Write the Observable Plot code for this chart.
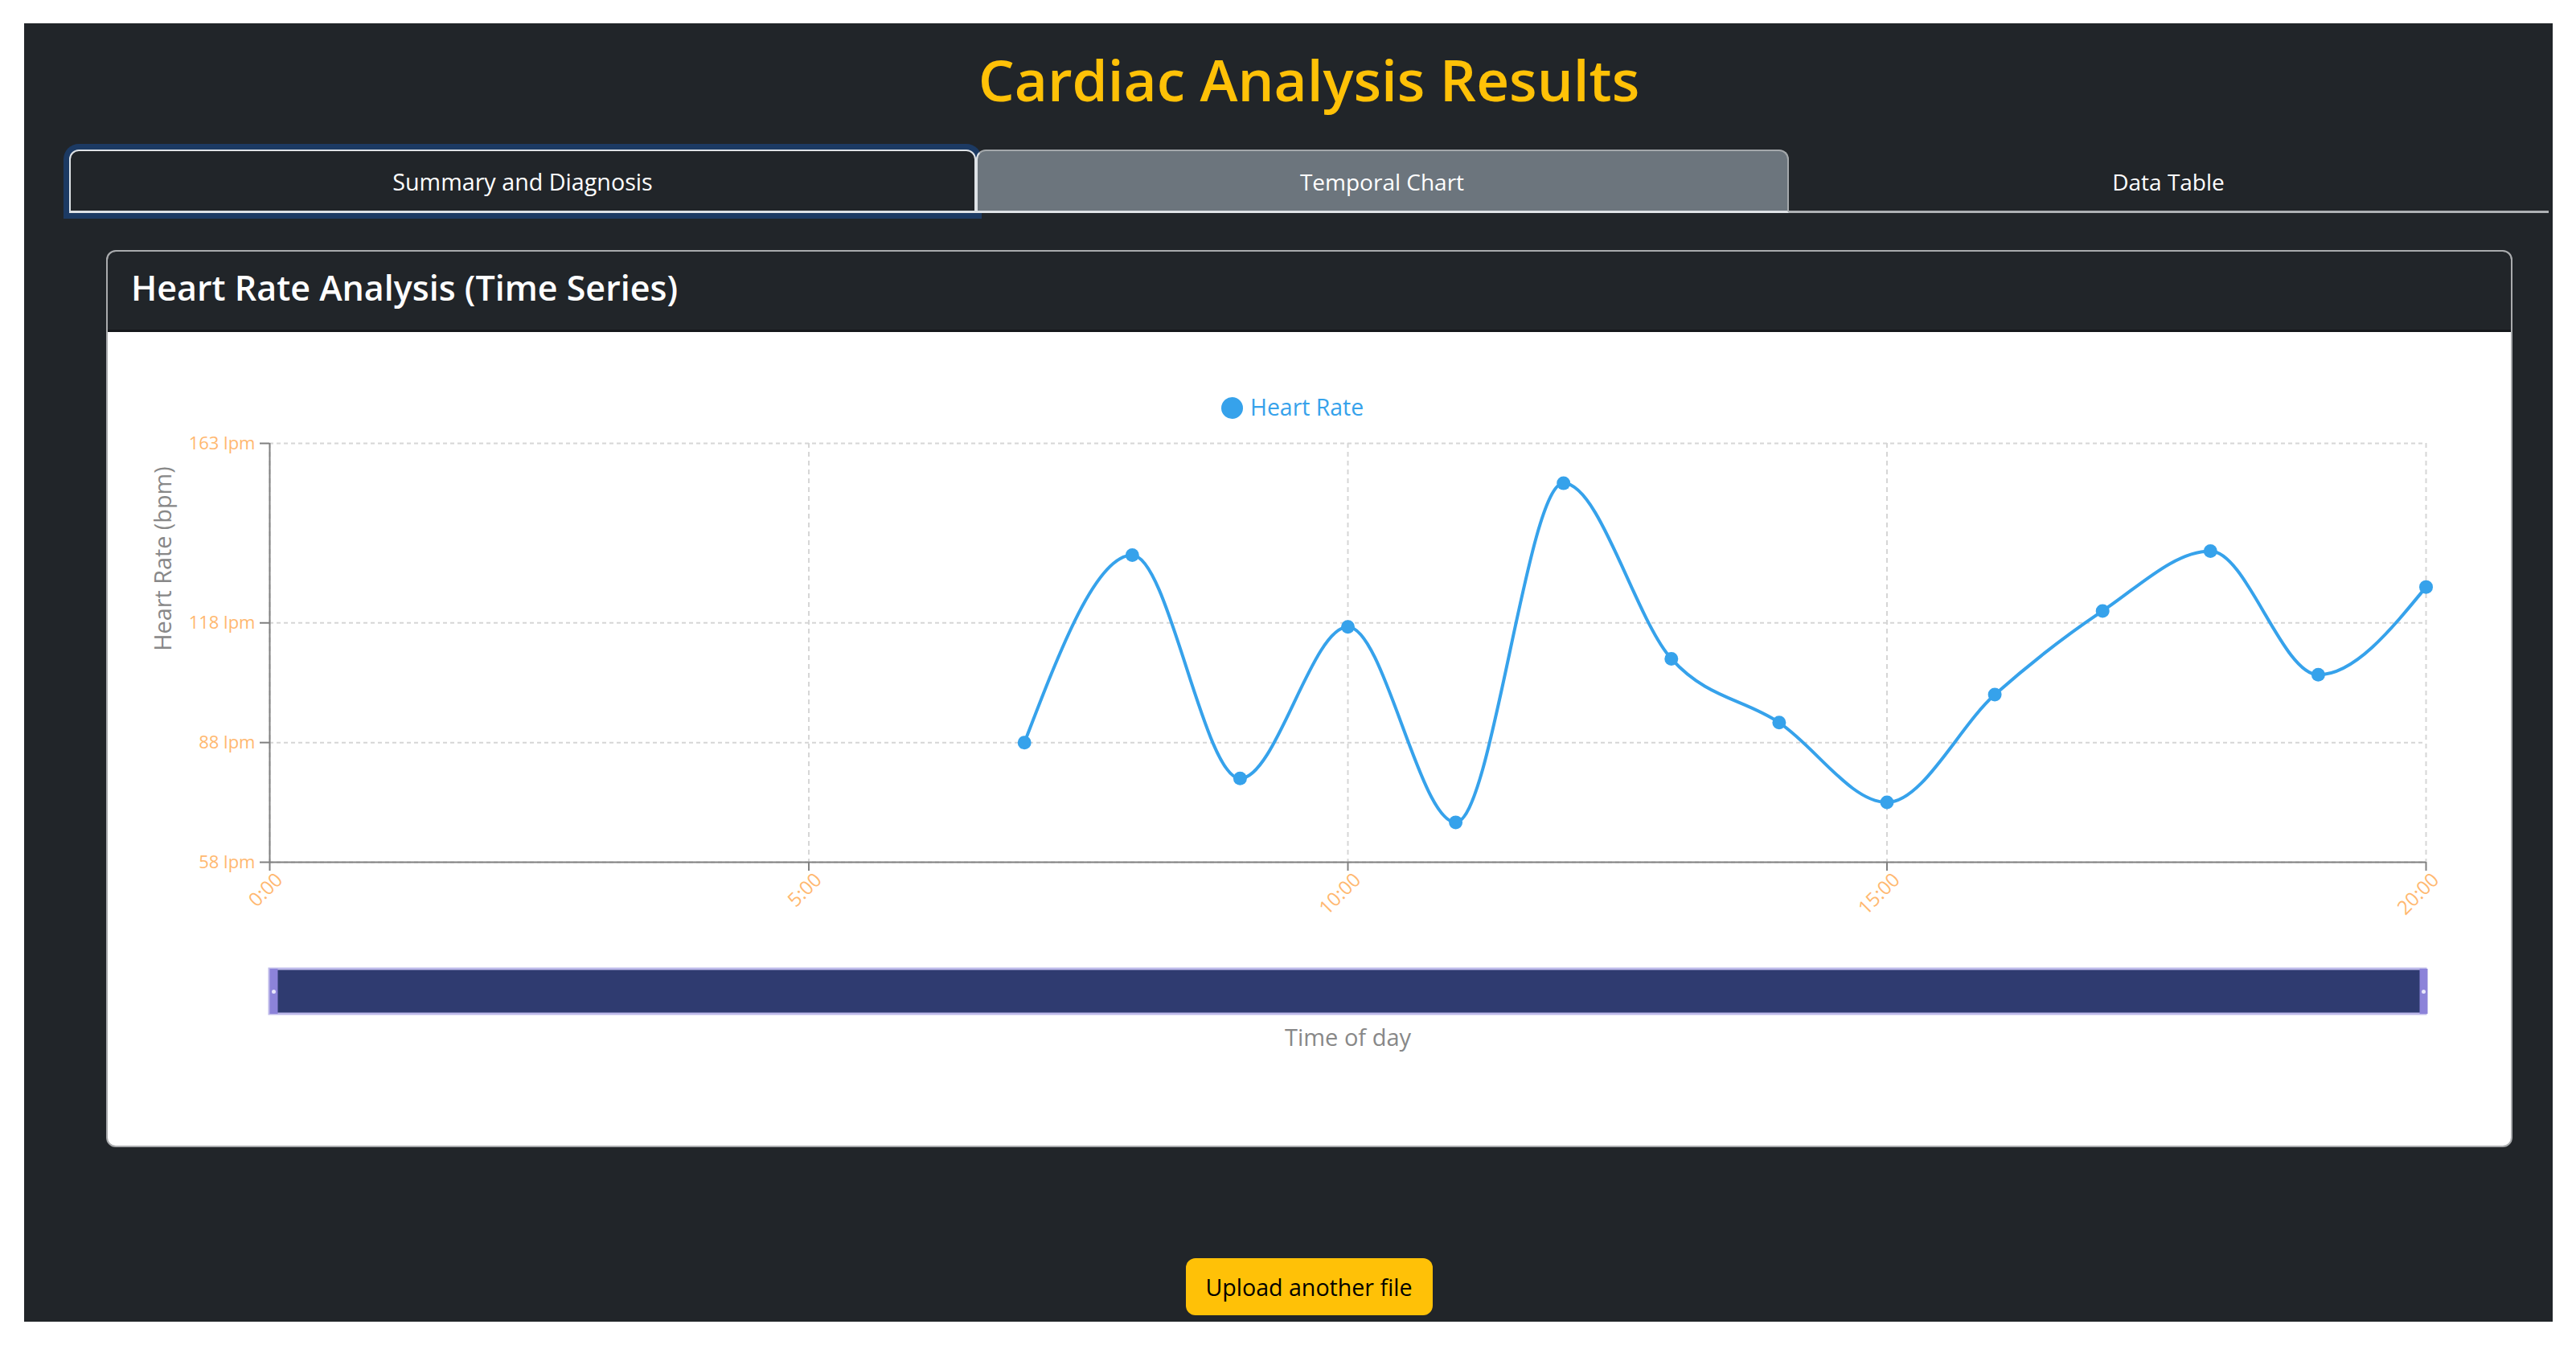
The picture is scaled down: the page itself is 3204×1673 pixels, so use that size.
<!DOCTYPE html>
<html><head><meta charset="utf-8">
<script src="https://cdn.jsdelivr.net/npm/d3@7"></script>
<script src="https://cdn.jsdelivr.net/npm/@observablehq/plot@0.6"></script>
<style>
html,body{margin:0;padding:0;background:#fff;width:3204px;height:1673px;overflow:hidden;font-family:"Open Sans",sans-serif;}
.abs{position:absolute;box-sizing:border-box;}
.t{position:absolute;white-space:nowrap;transform:translate(-50%,-50%);line-height:1;}
svg{display:block;}
</style></head><body>
<div class="abs" style="left:30px;top:29px;width:3145px;height:1615px;background:#212529;"></div>
<div class="t" style="left:1628px;top:98px;font-size:71px;font-weight:600;color:#FFC107;">Cardiac Analysis Results</div>
<!-- tabs -->
<div class="abs" style="left:88px;top:262px;width:3082px;height:3px;background:#aeb1b4;"></div>
<div class="abs" style="left:86px;top:186px;width:1128px;height:79px;background:#212529;border:2px solid #dee2e6;border-bottom:3px solid #dee2e6;border-radius:12px 12px 0 0;box-shadow:0 0 0 7px #1c3a63;"></div>
<div class="abs" style="left:1214px;top:186px;width:1011px;height:79px;background:#6C757D;border:2px solid #a4a8ab;border-left:2px solid #dee2e6;border-bottom:3px solid #dee2e6;border-radius:12px 12px 0 0;"></div>
<div class="t" style="left:650px;top:226px;font-size:28.7px;color:#fff;">Summary and Diagnosis</div>
<div class="t" style="left:1719px;top:226px;font-size:28px;color:#fff;">Temporal Chart</div>
<div class="t" style="left:2697px;top:226px;font-size:28px;color:#fff;">Data Table</div>
<!-- card -->
<div class="abs" style="left:132px;top:311px;width:2993px;height:1116px;background:#fff;border:2px solid #a9abad;border-radius:12px;overflow:hidden;">
  <div style="height:97px;background:#212529;border-bottom:3px solid #15181b;"></div>
</div>
<div class="t" style="left:163px;top:357px;transform:translate(0,-50%);font-size:43px;font-weight:600;color:#fff;">Heart Rate Analysis (Time Series)</div>
<!-- legend -->
<div class="abs" style="left:1519px;top:494px;width:27px;height:27px;border-radius:50%;background:#36A2EB;"></div>
<div class="t" style="left:1555px;top:506px;transform:translate(0,-50%);font-size:28.4px;color:#36A2EB;">Heart Rate</div>
<div class="t" style="left:202px;top:695px;transform:translate(-50%,-50%) rotate(-90deg);font-size:28.8px;color:#888;">Heart Rate (bpm)</div>
<div id="main" class="abs" style="left:133px;top:500.5px;"></div>
<div id="slider" class="abs" style="left:133px;top:1204.5px;"></div>
<!-- button -->
<div class="abs" style="left:1475px;top:1565px;width:307px;height:71px;background:#FFC107;border-radius:12px;"></div>
<div class="t" style="left:1628px;top:1601px;font-size:28.6px;color:#000;">Upload another file</div>
<script>
const hours = [7,8,9,10,11,12,13,14,15,16,17,18,19,20];
const heartRate = [88,135,79,117,68,153,109,93,73,100,121,136,105,127];
const xTicks = [0,5,10,15,20];
const yTicks = [58,88,118,163];
const xDomain = [0,20];
const yDomain = [58,163];
const rows = hours.map((h,i)=>({h,v:heartRate[i]}));
const font = '"Open Sans",sans-serif';
const orange = "#FFB870", axisGray = "#808080", blue = "#36A2EB";
const chart = Plot.plot({
  width:2991, height:651, marginLeft:202, marginRight:107, marginTop:50, marginBottom:80,
  style:{fontFamily:font, fontSize:"22px", background:"transparent", overflow:"visible"},
  x:{domain:xDomain, label:null}, y:{domain:yDomain, label:null},
  marks:[
    Plot.gridX({ticks:xTicks, stroke:"#d6d6d6", strokeOpacity:1, strokeWidth:2, strokeDasharray:"6 5"}),
    Plot.gridY({ticks:yTicks, stroke:"#d6d6d6", strokeOpacity:1, strokeWidth:2, strokeDasharray:"5 4"}),
    Plot.ruleY(yDomain.slice(0,1),{stroke:axisGray, strokeWidth:2}),
    Plot.ruleX(xDomain.slice(0,1),{stroke:axisGray, strokeWidth:2}),
    Plot.axisY({ticks:yTicks, tickFormat:d=>d+" lpm", tickSize:12, tickPadding:6, stroke:axisGray, strokeWidth:2, fill:orange, label:null}),
    Plot.axisX({ticks:xTicks, tickFormat:()=>"", tickSize:11, stroke:axisGray, strokeWidth:2, label:null}),
    Plot.axisX({ticks:xTicks, tickFormat:d=>d+":00", tickSize:0, tickPadding:18, tickRotate:-45, fontSize:24, fill:orange, label:null, dx:12}),
    Plot.line(rows,{x:"h",y:"v",stroke:blue,strokeWidth:4,curve:"monotone-x"}),
    Plot.dot(rows,{x:"h",y:"v",r:8.5,fill:blue})
  ]
});
document.getElementById("main").append(chart);
const slider = Plot.plot({
  width:2991, height:116, marginLeft:202, marginRight:107, marginTop:0, marginBottom:60,
  style:{fontFamily:font, fontSize:"29px", background:"transparent", overflow:"visible"},
  x:{domain:xDomain}, y:{axis:null},
  marks:[
    Plot.rect([xDomain],{x1:d=>d[0],x2:d=>d[1],fill:"#2F3B70",stroke:"#BDB9EA",strokeWidth:3}),
    Plot.ruleX(xDomain.slice(0,1),{stroke:"#8C83D9",strokeWidth:10,dx:5}),
    Plot.ruleX(xDomain.slice(1),{stroke:"#8C83D9",strokeWidth:10,dx:-3}),
    Plot.dot(xDomain.slice(0,1),{x:d=>d,r:2.5,fill:"#E8E6FA",dx:5}),
    Plot.dot(xDomain.slice(1),{x:d=>d,r:2.5,fill:"#E8E6FA",dx:-3}),
    Plot.axisX({ticks:[], tickSize:0, label:"Time of day", labelAnchor:"center", labelArrow:"none", labelOffset:39, fill:"#888"})
  ]
});
document.getElementById("slider").append(slider);
</script>
</body></html>
